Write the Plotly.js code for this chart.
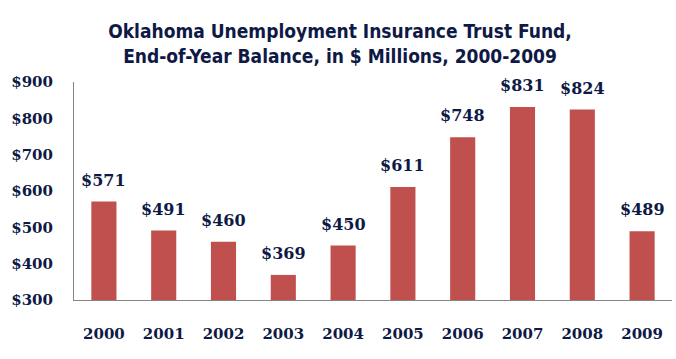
<!DOCTYPE html>
<html>
<head>
<meta charset="utf-8">
<script src="https://cdn.plot.ly/plotly-3.0.1.min.js"></script>
<style>html,body{margin:0;padding:0;background:#fff;}#chart{width:676px;height:359px;}</style>
</head>
<body>
<div id="chart"></div>
<script>
const years = ["2000","2001","2002","2003","2004","2005","2006","2007","2008","2009"];
const balances = [571, 491, 460, 369, 450, 611, 748, 831, 824, 489];
const yTickValues = [300, 400, 500, 600, 700, 800, 900];
const yTickLabels = ["$300","$400","$500","$600","$700","$800","$900"];
const titleText = "Oklahoma Unemployment Insurance Trust Fund,<br>End-of-Year Balance, in $ Millions, 2000-2009";

const navy = "#0E1A45";
const labelFont = {family: "DejaVu Serif", size: 15, color: navy, weight: "bold"};
const dataFont = {family: "DejaVu Serif", size: 16, color: navy, weight: "bold"};

const trace = {
  type: "bar",
  x: years,
  y: balances.map(v => v - 300),
  base: 300,
  marker: {color: "#C0504D"},
  hoverinfo: "none"
};

const annotations = years.map((yr, i) => ({
  x: i, y: balances[i], xref: "x", yref: "y",
  text: "<b>$" + balances[i] + "</b>",
  showarrow: false, yanchor: "bottom", yshift: 10,
  font: dataFont
}));

const layout = {
  width: 676, height: 359,
  margin: {l: 74, r: 4, t: 82, b: 59},
  paper_bgcolor: "#ffffff", plot_bgcolor: "#ffffff",
  showlegend: false,
  bargap: 0.58,
  title: {
    text: "<b>" + titleText + "</b>",
    font: {family: "DejaVu Sans Condensed, DejaVu Sans", size: 19, color: navy},
    xref: "container", x: 0.503, xanchor: "center",
    yref: "container", y: 0.893, yanchor: "middle"
  },
  xaxis: {
    type: "category",
    range: [-0.5, 9.5],
    showline: true, linecolor: "#868686", linewidth: 1,
    ticks: "outside", ticklen: 20, tickcolor: "rgba(0,0,0,0)",
    tickfont: labelFont,
    showgrid: false, zeroline: false
  },
  yaxis: {
    range: [300, 900],
    tickvals: yTickValues, ticktext: yTickLabels,
    showline: true, linecolor: "#868686", linewidth: 1,
    ticks: "outside", ticklen: 17, tickcolor: "rgba(0,0,0,0)",
    tickfont: labelFont,
    showgrid: false, zeroline: false
  },
  annotations: annotations
};

Plotly.newPlot("chart", [trace], layout, {displayModeBar: false, staticPlot: true});
</script>
</body>
</html>
